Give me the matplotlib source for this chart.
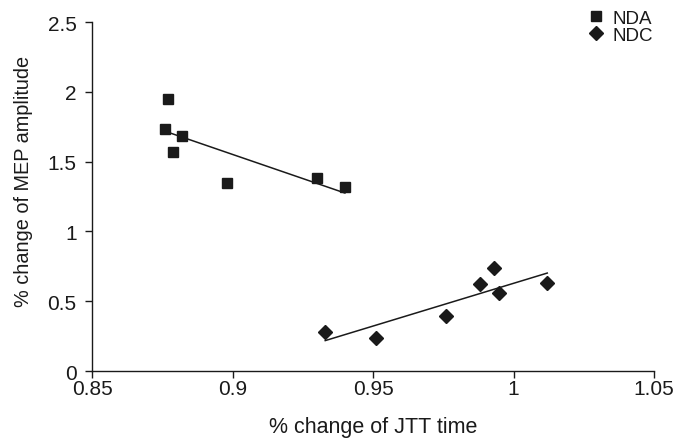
import numpy as np
import matplotlib
matplotlib.use("Agg")
import matplotlib.pyplot as plt

plt.rcParams['font.family'] = ['Liberation Sans', 'DejaVu Sans']

nda_x = [0.876, 0.877, 0.879, 0.882, 0.898, 0.930, 0.940]
nda_y = [1.73, 1.95, 1.57, 1.685, 1.35, 1.38, 1.32]
ndc_x = [0.933, 0.951, 0.976, 0.988, 0.993, 0.995, 1.012]
ndc_y = [0.279, 0.234, 0.396, 0.625, 0.738, 0.561, 0.633]

xticks = [0.85, 0.9, 0.95, 1.0, 1.05]
xticklabels = ['0.85', '0.9', '0.95', '1', '1.05']
yticks = [0, 0.5, 1, 1.5, 2, 2.5]
yticklabels = ['0', '0.5', '1', '1.5', '2', '2.5']

col = '#1a1a1a'
fs = 15
fig = plt.figure(figsize=(6.82, 4.39), dpi=100)
ax = fig.add_axes([0.1349, 0.1526, 0.8241, 0.795])

ax.plot(nda_x, nda_y, 's', color=col, ms=7.5, label='NDA', linestyle='none')
ax.plot(ndc_x, ndc_y, 'D', color=col, ms=7, label='NDC', linestyle='none')

for xs, ys in ((nda_x, nda_y), (ndc_x, ndc_y)):
    p = np.polyfit(xs, ys, 1)
    xx = np.array([min(xs), max(xs)])
    ax.plot(xx, np.polyval(p, xx), color=col, lw=1.1)

ax.set_xlim(0.85, 1.05)
ax.set_ylim(0, 2.5)
ax.set_xticks(xticks)
ax.set_xticklabels(xticklabels)
ax.set_yticks(yticks)
ax.set_yticklabels(yticklabels)
for s in ('top', 'right'):
    ax.spines[s].set_visible(False)
for s in ('left', 'bottom'):
    ax.spines[s].set_color(col)
    ax.spines[s].set_linewidth(1.0)
ax.tick_params(direction='out', length=5, width=1, color=col, labelsize=fs,
               labelcolor=col)
ax.tick_params(axis='x', pad=0.5)
ax.tick_params(axis='y', pad=6)
ax.set_xlabel('% change of JTT time', fontsize=15.5, color=col)
ax.xaxis.set_label_coords(0.5, -0.13)
ax.set_ylabel('% change of MEP amplitude', fontsize=14.3, color=col)
ax.yaxis.set_label_coords(-0.105, 0.547)

leg = ax.legend(loc='upper right', frameon=False, fontsize=13.5, handletextpad=0.4,
                labelspacing=0.0, borderaxespad=0, bbox_to_anchor=(1.012, 1.057),
                handlelength=1.0)
for t in leg.get_texts():
    t.set_color(col)

fig.savefig('out.png', dpi=100)
